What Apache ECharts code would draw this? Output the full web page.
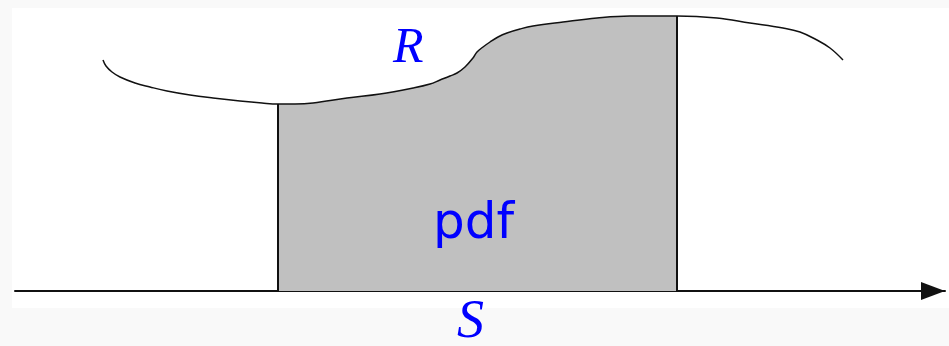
<!DOCTYPE html>
<html>
<head>
<meta charset="utf-8">
<script src="https://cdn.jsdelivr.net/npm/echarts@6/dist/echarts.min.js"></script>
<style>
  html, body { margin: 0; padding: 0; background: #fff; }
  #main { width: 949px; height: 346px; }
</style>
</head>
<body>
<div id="main"></div>
<script>
// curve R(S) (x along S, y = height above the axis)
var curveX = [88, 91, 97, 105, 120, 135, 152, 175, 198, 225, 247, 263, 280, 298, 332, 365, 398, 415, 425, 435,
              442, 450, 458, 462, 468, 475, 483, 492, 505, 518, 548, 582, 615, 662, 702, 735, 768, 785, 802, 815, 828];
var curveY = [231, 225, 219, 214, 208, 204, 200, 196, 193, 190, 188, 187, 187, 188, 193, 197, 203, 207, 211, 215,
              218, 224, 233, 239, 244, 249, 254, 258, 262, 265, 269, 273, 275, 275, 273, 268, 263, 259, 251, 243, 231];
// shaded interval [lo, hi]
var shadeLo = 263;
var shadeHi = 662;

var curve = curveX.map(function(x, i){ return [x, curveY[i]]; });
var shade = curve.filter(function(p){ return p[0] >= shadeLo && p[0] <= shadeHi; });
function yAt(x){
  var i = curveX.indexOf(x);
  return curveY[i];
}

var chart = echarts.init(document.getElementById('main'));
var options = {
  animation: false,
  backgroundColor: '#f9f9f9',
  grid: { left: 15, right: 4, top: 0, bottom: 55 },
  xAxis: {
    type: 'value', min: 0, max: 930,
    axisLine: { show: true, symbol: ['none', 'triangle'], symbolSize: [18, 24], symbolOffset: [0, -12],
                lineStyle: { color: '#111', width: 2 } },
    axisTick: { show: false }, axisLabel: { show: false }, splitLine: { show: false }
  },
  yAxis: {
    type: 'value', min: 0, max: 291, show: false, splitLine: { show: false }
  },
  graphic: [
    { type: 'rect', z: -10, shape: { x: 12, y: 8, width: 937, height: 300 }, style: { fill: '#fff' } },
    { type: 'text', z: 100, left: 393, top: 24, style: { text: 'R', font: 'italic 50px "Liberation Serif"', fill: '#0000ff' } },
    { type: 'text', z: 100, left: 433, top: 200, style: { text: 'pdf', font: '50px "DejaVu Sans"', fill: '#0000ff' } },
    { type: 'text', z: 100, left: 457, top: 296, style: { text: 'S', font: 'italic 54px "Liberation Serif"', fill: '#0000ff' } }
  ],
  series: [
    {
      type: 'line', data: shade, smooth: 0.4, symbol: 'none',
      lineStyle: { width: 0 }, areaStyle: { color: '#c0c0c0', opacity: 1 }, z: 1
    },
    {
      type: 'line', data: [[shadeLo, 0], [shadeLo, yAt(shadeLo)]], symbol: 'none',
      lineStyle: { color: '#111', width: 2 }, z: 2
    },
    {
      type: 'line', data: [[shadeHi, 0], [shadeHi, yAt(shadeHi)]], symbol: 'none',
      lineStyle: { color: '#111', width: 2 }, z: 2
    },
    {
      type: 'line', data: curve, smooth: 0.4, symbol: 'none',
      lineStyle: { color: '#111', width: 1.5 }, z: 3
    }
  ]
};
chart.setOption(options);
</script>
</body>
</html>
